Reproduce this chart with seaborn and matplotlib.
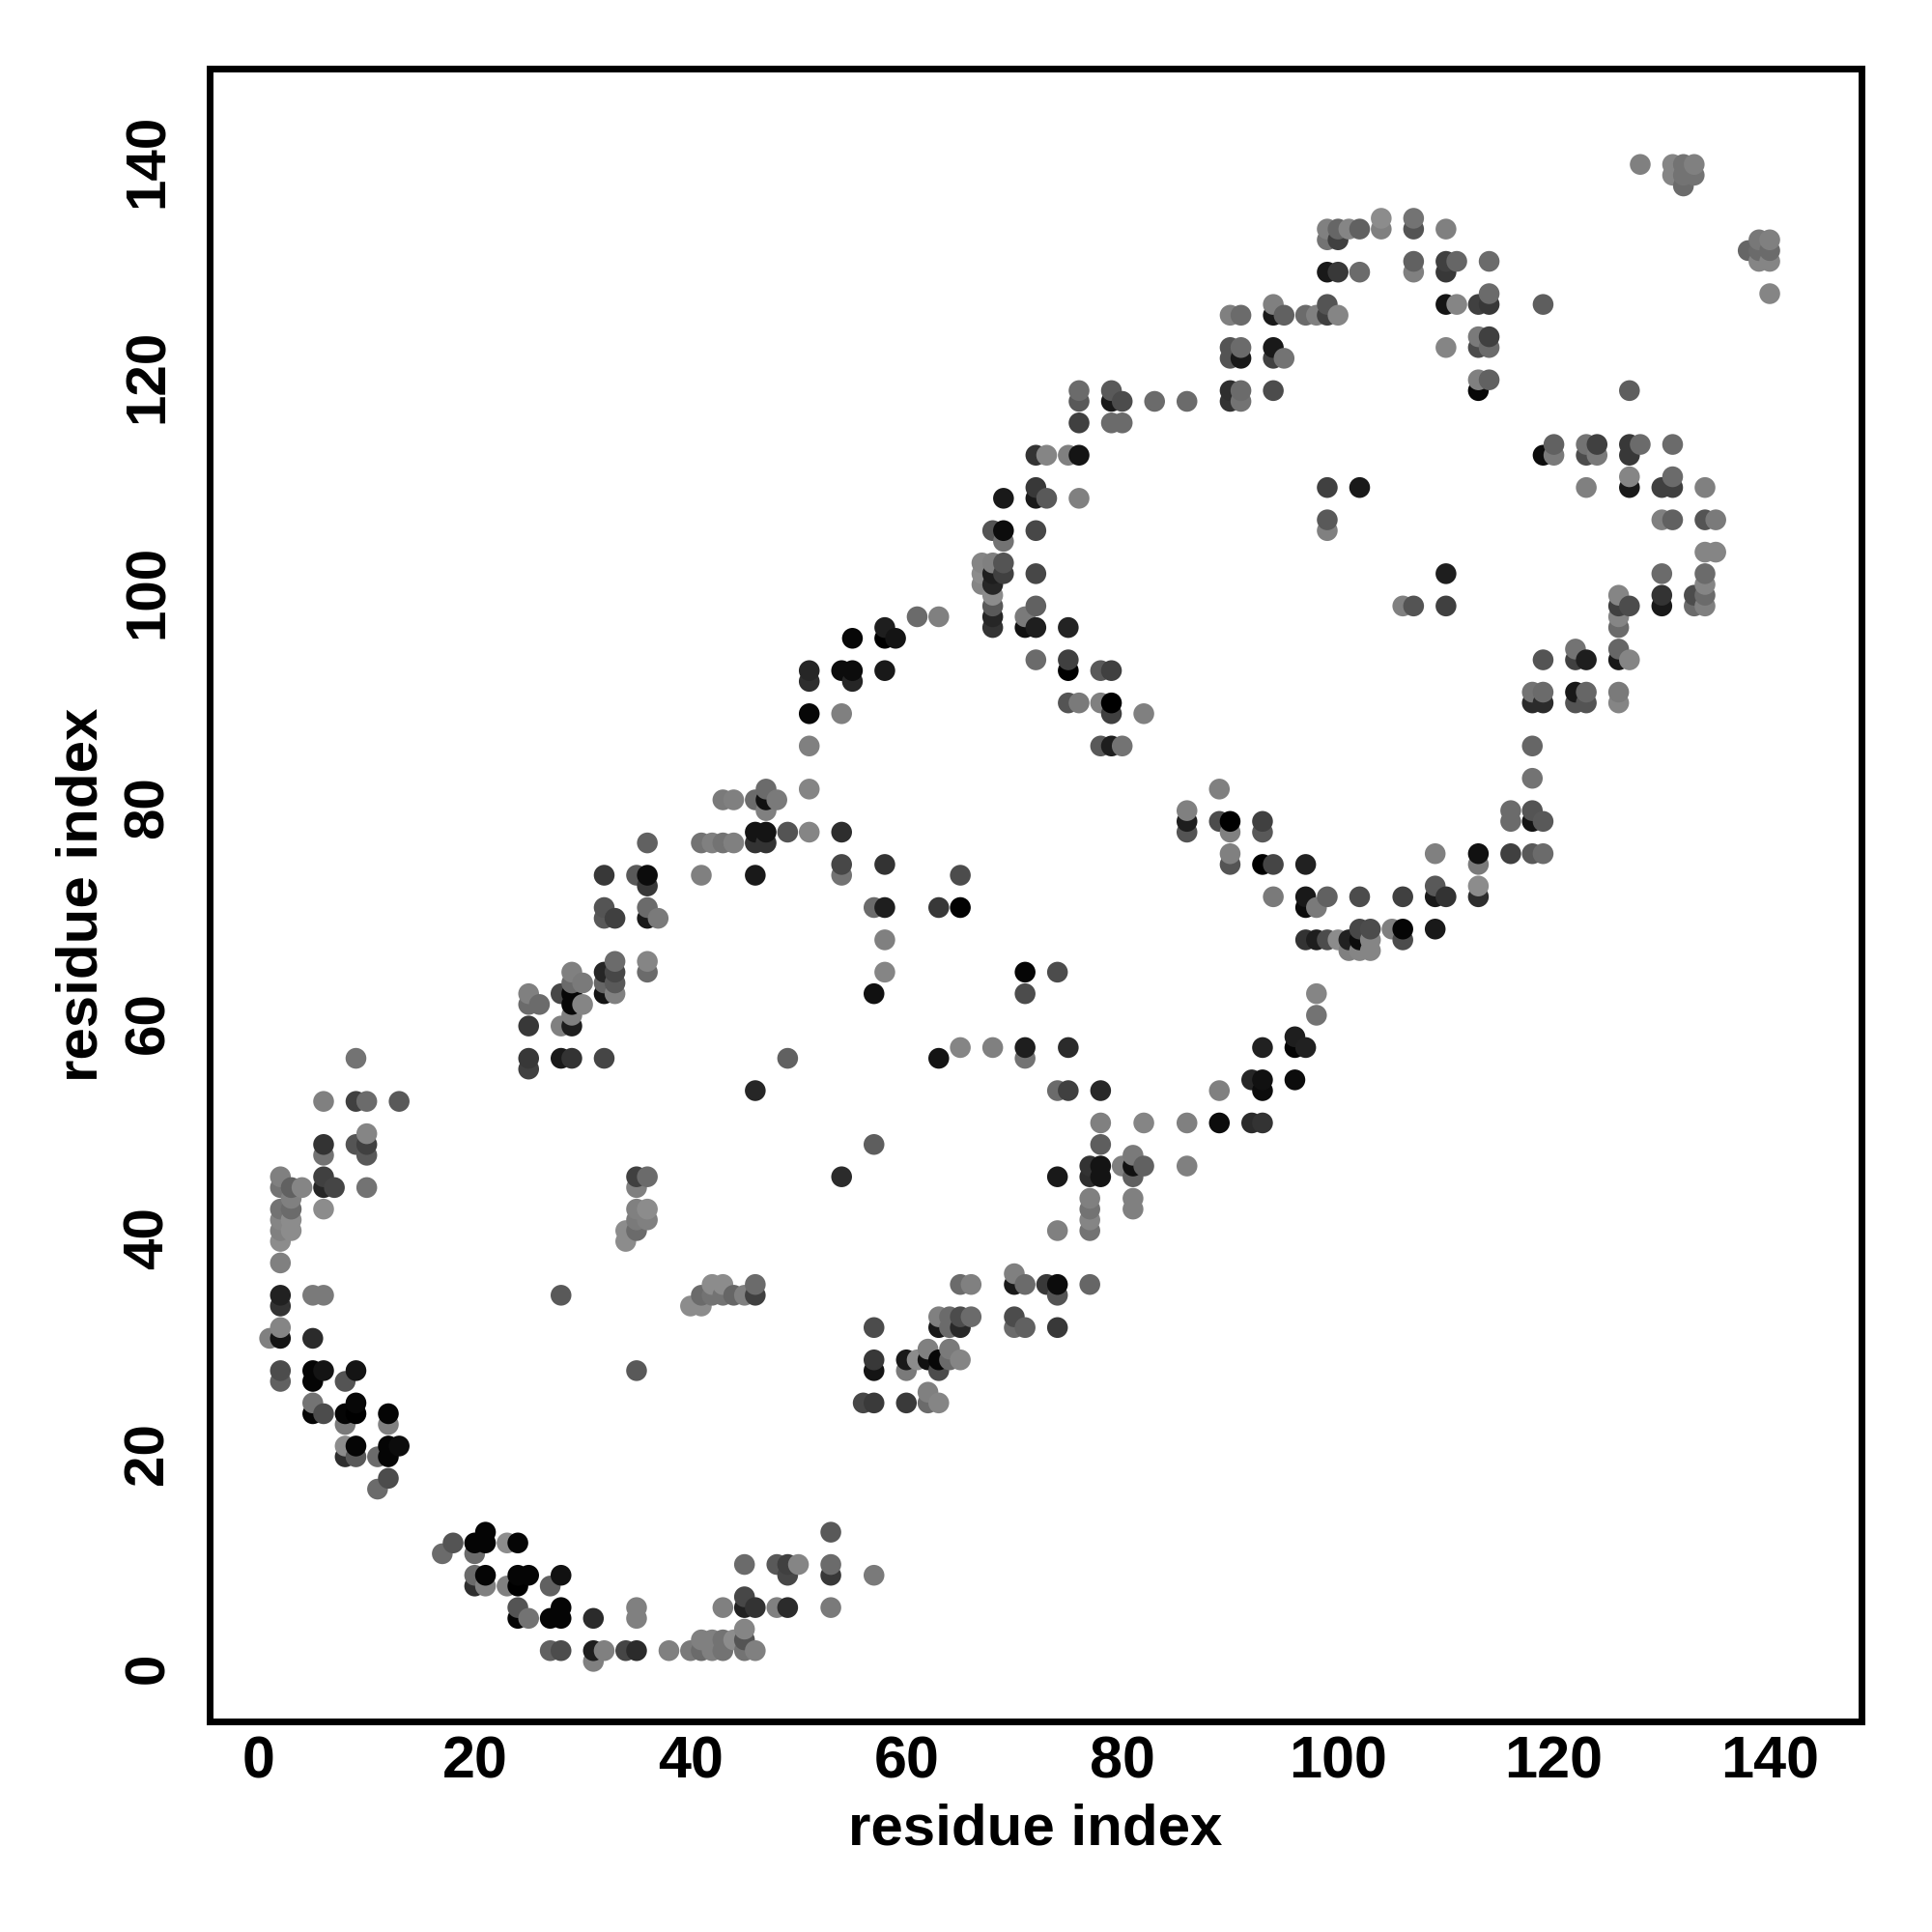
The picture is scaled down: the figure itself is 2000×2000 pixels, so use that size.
import pandas as pd
import seaborn as sns
import matplotlib.pyplot as plt
from matplotlib.transforms import ScaledTranslation

sns.set_style('white')
plt.rcParams['font.family'] = ['Liberation Sans', 'DejaVu Sans']

tick_vals = [0, 20, 40, 60, 80, 100, 120, 140]
x_limits = (-4.56, 148.5)
y_limits = (-4.57, 148.9)

# first residue of each contact, one entry per column of points
column_i = [1, 2, 3, 4, 5, 6, 7, 8, 9, 10, 11, 12, 13, 17, 18, 20, 21, 23, 24, 25, 26, 27, 28, 29, 30,
            31, 32, 33, 34, 35, 36, 37, 38, 40, 41, 42, 43, 44, 45, 46, 47, 48, 49, 50, 51, 53, 54, 55,
            56, 57, 58, 59, 60, 61, 62, 63, 64, 65, 66, 67, 68, 69, 70, 71, 72, 73, 74, 75, 76, 77, 78,
            79, 80, 81, 82, 83, 86, 89, 90, 91, 92, 93, 94, 95, 96, 97, 98, 99, 100, 101, 102, 103, 104,
            105, 106, 107, 109, 110, 111, 113, 114, 116, 118, 119, 120, 122, 123, 124, 126, 127, 128,
            130, 131, 132, 133, 134, 135, 138, 139, 140]

# second residue of each contact
column_j = [
    [31], [46, 45, 43, 42, 41, 40, 38, 35, 34, 32, 31, 28, 27], [45, 44, 43, 42, 41], [45],
    [35, 31, 28, 27, 25, 24], [53, 49, 48, 46, 45, 43, 35, 28, 24], [45], [27, 24, 23, 21, 20],
    [57, 53, 49, 28, 25, 24, 21, 20], [53, 50, 49, 48, 45], [20, 17], [24, 23, 21, 20, 18], [53, 21],
    [11], [12], [12, 11, 9, 8], [13, 12, 9, 8], [12, 8], [12, 9, 8, 6, 5],
    [63, 62, 60, 57, 56, 9, 5], [62], [8, 5, 2], [63, 60, 57, 35, 9, 6, 5, 2],
    [65, 64, 63, 62, 61, 60, 57], [64, 62], [5, 2, 1], [74, 71, 70, 65, 64, 63, 57, 2],
    [70, 66, 65, 64, 63], [41, 40, 2], [74, 46, 45, 43, 42, 41, 28, 6, 5, 2],
    [77, 74, 73, 71, 70, 66, 65, 46, 43, 42], [70], [2], [34, 2], [77, 74, 35, 34, 3, 2],
    [77, 36, 35, 3, 2], [81, 77, 36, 35, 6, 3, 2], [81, 77, 35, 3], [35, 10, 7, 6, 4, 3, 2],
    [81, 78, 77, 74, 54, 36, 35, 6, 2], [82, 81, 80, 78, 77], [81, 10, 6], [78, 57, 10, 9, 6], [10],
    [93, 92, 89, 86, 82, 78], [13, 10, 9, 6], [93, 89, 78, 75, 74, 46], [96, 93, 92], [25],
    [71, 63, 49, 32, 29, 28, 25, 9], [97, 96, 93, 75, 71, 68, 65], [96], [29, 28, 25], [98, 29],
    [30, 29, 26, 25], [98, 71, 57, 33, 32, 29, 28, 25], [33, 32, 30, 29], [74, 71, 58, 36, 33, 32, 29],
    [36, 33], [103, 102, 101], [106, 103, 102, 101, 100, 99, 98, 97, 58], [109, 106, 105, 103, 102],
    [37, 36, 33, 32], [98, 97, 65, 63, 58, 57, 36, 32], [113, 110, 109, 106, 102, 99, 97, 94],
    [113, 109, 36], [65, 54, 46, 41, 36, 35, 32], [113, 97, 94, 93, 90, 58, 54],
    [119, 118, 116, 113, 109, 90], [47, 46, 44, 43, 42, 41, 36], [93, 90, 86, 54, 51, 49, 47, 46],
    [119, 118, 116, 93, 90, 89, 86], [118, 116, 86, 47], [48, 47, 46, 44, 43], [89, 51, 47], [118],
    [118, 80, 79, 78, 51, 47], [82, 79, 54, 51], [126, 123, 122, 119, 118, 79, 78, 76, 75],
    [126, 123, 122, 119, 118], [55, 51], [79, 78, 75, 58, 55, 54, 51],
    [127, 126, 123, 122, 119, 75, 72], [126, 122], [59, 58, 55], [126, 75, 72, 71, 68, 58],
    [126, 71, 68, 63, 61], [134, 133, 130, 127, 126, 110, 107, 106, 72, 68], [134, 133, 130, 126, 68],
    [134, 68, 67], [134, 130, 110, 72, 69, 68, 67], [69, 68, 67], [135, 134], [69], [99, 72, 69, 68],
    [135, 134, 131, 130, 99], [76, 73, 72, 69], [134, 131, 130, 127, 123, 102, 99, 72], [131, 127],
    [127, 124, 123, 120, 119, 76, 75, 73, 72], [131, 128, 127, 124, 123, 120], [80, 79, 76],
    [91, 90, 86, 83, 80, 79, 76], [127, 113, 94, 91, 90, 79, 76], [114, 113], [95, 94, 91, 90],
    [114, 113, 110, 94, 91, 90], [114, 113], [100, 99, 98, 97, 95, 94, 91, 90],
    [119, 114, 113, 111, 110, 99, 94], [140, 114], [110, 107, 102, 100, 99],
    [140, 139, 114, 111, 110, 107], [140, 139, 138], [140, 139, 100, 99],
    [110, 107, 104, 102, 101, 100, 99], [107, 104], [132], [133, 132, 131], [133, 132, 131, 128],
]

# grey level of each contact, 0 is black
column_shade = [
    [.5], [.5, .45, .45, .52, .5, .55, .5, .13, .2, .52, .08, .3, .38], [.38, .5, .42, .55, .55], [.52],
    [.48, .17, .02, .02, .45, .02], [.5, .2, .45, .25, .15, .55, .48, .08, .3], [.27], [.33, .02, .48, .55, .18],
    [.45, .25, .33, .08, .03, 0, .02, .35], [.42, .52, .25, .35, .45], [.42, .42], [.02, .5, .02, .02, .3], [.35, .05],
    [.42], [.33], [.02, .42, .42, .18], [.02, .02, .02, .5], [.55, .5], [.02, .02, 0, .33, .02],
    [.5, .42, .22, .22, .25, .02, .45], [.42], [.38, .02, .38], [.28, .5, .1, .35, .07, .02, .02, .3],
    [.5, .42, .03, .03, .5, .12, .2], [.48, .52], [.17, .12, .5], [.22, .33, .35, .15, .4, .08, .27, .5],
    [.25, .42, .28, .35, .5], [.55, .55, .27], [.35, .25, .5, .5, .48, .42, .35, .5, .5, .17],
    [.38, .05, .22, .42, .1, .52, .42, .42, .55, .5], [.48], [.5], [.55, .48], [.45, .5, .42, .55, .5, .42],
    [.5, .55, .45, .5, .5], [.48, .45, .55, .45, .5, .45, .45], [.5, .5, .4, .55], [.5, .42, .28, .13, .52, .33, .45],
    [.42, .08, .2, .1, .15, .42, .25, .2, .5], [.42, .07, .5, .08, .2], [.48, .35, .5], [.33, .38, .25, .28, .17], [.52],
    [.15, .18, .03, .5, .52, .52], [.35, .42, .22, .48], [.05, .5, .18, .28, .45, .17], [.03, .05, .15], [.28],
    [.42, .07, .37, .3, .22, .08, .23, .48], [.12, 0, .1, .2, .12, .5, .52], [.08], [.1, .48, .23], [.42, .55],
    [.5, .07, .5, .42], [.5, .22, .08, .5, .1, .03, .3, .52], [.42, .42, .48, .42], [.3, .01, .52, .42, .3, .16, .52],
    [.5, .42], [.52, .55, .52], [.33, .5, .12, .15, .55, .35, .15, .2, .5], [.1, .05, .45, .33, .25],
    [.5, .1, .3, .42], [.48, .07, .02, .3, .12, .45, .42, .38], [.2, .22, .1, .28, .28, .38, .12, .42],
    [.52, .35, .22], [.3, .42, .1, .5, .05, .33, .22], [.5, .14, .25, 0, .33, .17, .25],
    [.42, .35, .25, .08, .5, .48], [.2, .18, .5, .45, .52, .45, .4], [.35, .5, .35, .16, .5, .37, .08, .08],
    [.35, .1, .42, .25, 0, .25, .12], [.3, .42, .45, .5], [.48, .07, .38, .5, .5], [.5, .52, .38], [.42],
    [.42, .5, .12, .33, .5, .5], [.5, .3, .5, .05], [.5, .33, .33, .18, .2, 0, .5, .5, .33],
    [.42, .42, .1, .42, .45], [.15, .17], [.25, .35, 0, .13, .07, .05, .2],
    [.5, .1, .1, .25, .3, .27, .48], [.38, .45], [.12, .02, .05], [.42, .13, .1, .05, .2, .13],
    [.5, .48, .12, .52, .45], [.5, .45, .1, .33, .25, .25, .35, .5, .38, .3], [.4, .25, .22, .52, .55],
    [.52, .13, .5], [.38, .42, .1, .3, .28, .05, .52], [.3, .52, .52], [.55, .5], [.5], [.5, .25, .02, .3],
    [.45, .33, .38, .5, .33], [.5, .35, .1, .1], [.5, .25, .22, .08, .52, .12, .25, .2], [.4, .52],
    [.25, .48, .3, .5, .03, .07, .48, .55, .18], [.42, .42, .22, .25, .42, .38], [.42, .42, .25],
    [.45, .17, .4, .45, .33, .08, .35], [.37, .05, .33, .42, .17, .35, .42], [.38, .48], [.45, .25, .1, .33],
    [.45, .3, .5, .12, .4, .33], [.25, .48], [.52, .25, .52, .42, .4, .1, .48, .52],
    [.37, .22, .22, .52, .1, .3, .52], [.5, .42], [.25, .5, .42, .2, .1],
    [.52, .52, .42, .42, .25, .38], [.45, .45, .42], [.5, .45, .3, .42],
    [.5, .33, .52, .42, .52, .42, .5], [.48, .52], [.4], [.47, .42, .52], [.5, .42, .52, .52],
]

rows = []
for i, js, greys in zip(column_i, column_j, column_shade, strict=True):
    for j, grey in zip(js, greys, strict=True):
        rows.append((i, j, grey))
df = pd.DataFrame(rows, columns=['i', 'j', 'shade']).sort_values(['i', 'j'])

fig = plt.figure(figsize=(10, 10), dpi=200)
ax = fig.add_axes([0.1085, 0.109, 0.855, 0.8555])

sns.scatterplot(data=df, x='i', y='j', hue='shade', palette='gray', hue_norm=(0, 1),
                s=60, linewidth=0, legend=False, ax=ax)

ax.set_xlim(x_limits)
ax.set_ylim(y_limits)
ax.set_xticks(tick_vals)
ax.set_yticks(tick_vals)
ax.set_xlabel('residue index', fontsize=21.6, fontweight='bold', labelpad=4.7, color='black')
ax.set_ylabel('residue index', fontsize=21.6, fontweight='bold', labelpad=5, color='black')
ax.tick_params(axis='x', length=3.5, width=1.8, labelsize=22, pad=1.8, color='black', labelcolor='black')
ax.tick_params(axis='y', length=3.5, width=1.8, labelsize=21, pad=9.5, color='black', labelcolor='black')
for label in ax.get_xticklabels():
    label.set_fontweight('bold')
shift_up = ScaledTranslation(0, 1.4 / 72, fig.dpi_scale_trans)
for label in ax.get_yticklabels():
    label.set_fontweight('bold')
    label.set_rotation(90)
    label.set_va('center')
    label.set_transform(label.get_transform() + shift_up)

for spine in ax.spines.values():
    spine.set_linewidth(2.5)
    spine.set_color('black')

fig.savefig('out.png', dpi=200)
